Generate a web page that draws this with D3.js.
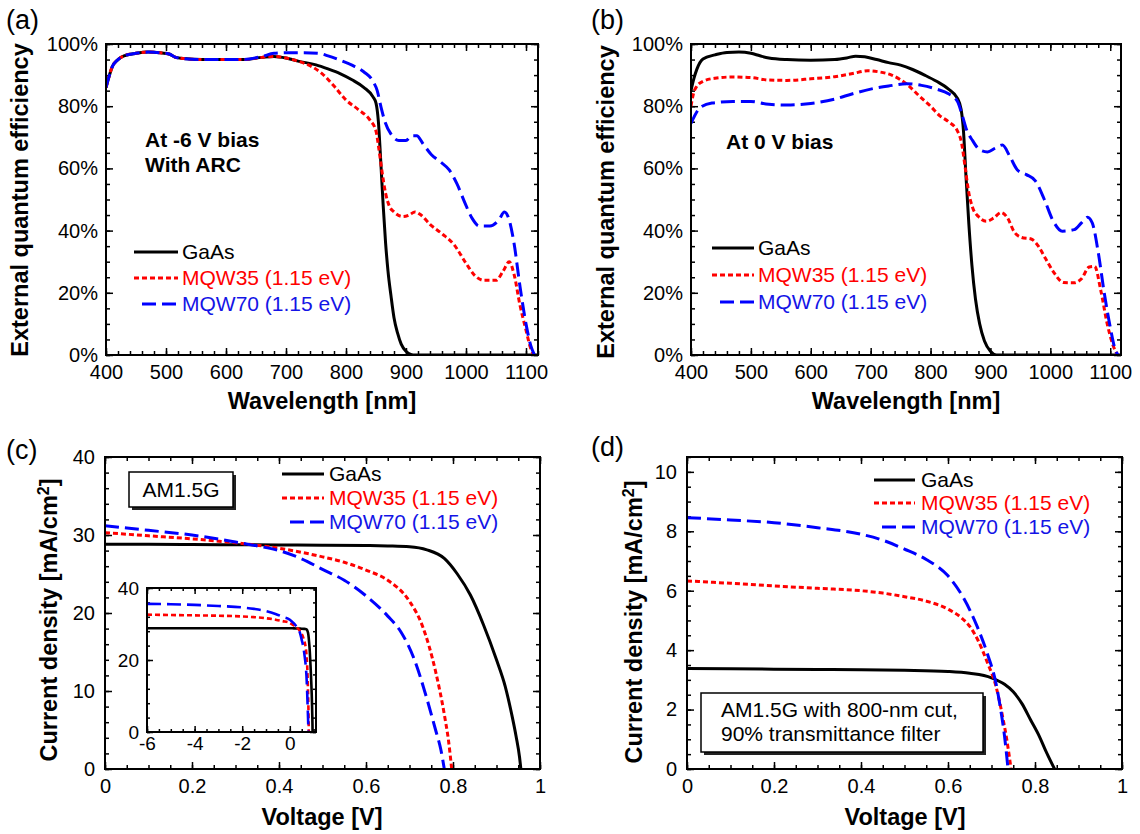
<!DOCTYPE html>
<html>
<head>
<meta charset="utf-8">
<script src="https://cdn.jsdelivr.net/npm/d3@7"></script>
<style>
  body { margin: 0; background: #fff; }
  svg text { font-family: "Liberation Sans", Arial, Helvetica, sans-serif; }
</style>
</head>
<body>
<svg id="fig" width="1140" height="834"></svg>
<script>
// ---------- data ----------
// (a) EQE at -6 V bias, with ARC   [wavelength nm, EQE %]
var eqeA_GaAs = [[400,86],[405,89.5],[410,92.5],[420,95],[430,96.2],[450,97],[470,97.4],[490,97.2],[505,96.8],[515,95.8],[530,95.3],[560,95],[600,95],[630,95],[660,95.7],[680,96],[700,95.5],[720,94.5],[750,93.3],[770,92],[790,90.5],[810,88.5],[830,86],[845,83],[850,81],[854,75],[858,62],[862,48],[866,36],[870,27],[875,19],[880,12],[886,7],[892,3.5],[900,1.2],[908,0.2],[915,0],[1120,0]];
var eqeA_MQW35 = [[400,86],[405,89.5],[410,92.5],[420,95],[430,96.2],[450,97],[470,97.4],[490,97.2],[505,96.8],[515,95.8],[530,95.3],[560,95],[600,95],[630,95],[660,95.7],[680,96],[700,95.5],[720,94.5],[745,92.5],[760,90.5],[780,86.5],[800,82],[820,79],[840,75.5],[850,72],[855,66],[860,59],[866,52],[872,48],[880,46],[895,44.5],[905,45],[915,46],[925,45],[940,42],[960,39],[980,35.5],[1000,29.5],[1015,25.5],[1030,24],[1050,24],[1062,27],[1072,30],[1080,26],[1090,16],[1100,8],[1108,2],[1113,0]];
var eqeA_MQW70 = [[400,86],[405,89.5],[410,92.5],[420,95],[430,96.2],[450,97],[470,97.4],[490,97.2],[505,96.8],[515,95.8],[530,95.3],[560,95],[600,95],[630,95],[660,96],[680,97],[700,97.2],[730,97.2],[755,97],[770,96.2],[790,94.8],[810,93.2],[830,91],[845,88],[852,85],[858,80],[865,75],[875,71],[888,69],[900,69],[910,70.5],[918,70.5],[928,68],[942,64.5],[958,62],[972,59.5],[985,55],[998,49],[1010,44],[1022,41.5],[1040,41.5],[1055,43.5],[1064,46],[1071,44],[1080,36],[1090,22],[1100,10],[1108,3],[1114,0]];

// (b) EQE at 0 V bias
var eqeB_GaAs = [[400,85],[405,89],[410,92],[420,95.2],[440,96.5],[460,97.3],[480,97.4],[500,97],[515,96.2],[530,95.5],[560,95],[600,94.8],[640,95],[660,95.5],[675,96.1],[690,95.9],[710,95],[730,94],[750,93.2],[770,91.8],[790,90],[810,88],[830,85.5],[845,82.5],[851,79],[855,72],[859,58],[864,42],[869,29],[875,18],[882,10],[890,4.5],[900,1.2],[910,0],[1120,0]];
var eqeB_MQW35 = [[400,80],[404,84],[410,86.5],[420,88],[440,89],[470,89.4],[500,89.2],[530,88.4],[560,88.3],[600,88.8],[640,89.5],[670,90.5],[695,91.4],[715,91],[735,90],[750,88.5],[765,86.3],[780,83.5],[800,80],[815,77],[830,75],[845,72],[852,68],[858,60],[864,52],[870,47.5],[880,44.5],[893,43],[905,44],[918,45.8],[928,44.2],[940,39.5],[952,37.8],[968,37.3],[980,35],[992,31],[1006,26.5],[1022,23.3],[1040,23.2],[1052,24.5],[1065,28.3],[1074,28.5],[1084,21],[1095,10],[1104,3.5],[1112,0]];
var eqeB_MQW70 = [[400,74.5],[405,76.5],[415,79.5],[435,81],[470,81.5],[500,81.5],[530,80.6],[560,80.4],[600,80.9],[640,82.3],[670,84],[700,85.5],[730,86.5],[760,87.2],[785,86.7],[810,85.5],[830,84],[845,81.5],[853,77],[860,72.5],[870,69],[882,66],[895,65.3],[908,66.5],[920,67.5],[932,64],[945,59.5],[960,58],[975,56],[990,50],[1005,43],[1020,39.8],[1040,40.3],[1052,42.5],[1062,44.3],[1070,42.5],[1080,33],[1090,20],[1100,9],[1108,2],[1113,0]];

// (c) J-V under AM1.5G   [voltage V, current density mA/cm2]
var jvC_GaAs = [[0,28.8],[0.1,28.8],[0.2,28.78],[0.3,28.75],[0.4,28.72],[0.5,28.7],[0.6,28.65],[0.65,28.6],[0.7,28.5],[0.74,28.1],[0.78,27],[0.81,25],[0.84,22.3],[0.87,18.5],[0.9,14],[0.92,10.6],[0.935,7],[0.945,4.2],[0.953,1.5],[0.956,0]];
var jvC_MQW35 = [[0,30.3],[0.05,30.1],[0.1,29.9],[0.2,29.5],[0.3,29],[0.4,28.3],[0.5,27.2],[0.55,26.5],[0.6,25.5],[0.65,24.2],[0.7,21.5],[0.73,18.3],[0.76,12.5],[0.78,7],[0.79,3.5],[0.797,0]];
var jvC_MQW70 = [[0,31.2],[0.05,30.9],[0.1,30.6],[0.2,30],[0.3,29.1],[0.35,28.6],[0.4,28],[0.45,27],[0.5,25.6],[0.55,24.2],[0.6,22.2],[0.65,19.6],[0.68,17.6],[0.71,14.2],[0.74,9],[0.76,5],[0.772,2.5],[0.78,0]];
// inset of (c): reverse-bias part, continued by the arrays above
var insetC_GaAs = [[-6,28.8],[-4,28.8],[-2,28.8],[-1,28.8]];
var insetC_MQW35 = [[-6,32.6],[-5,32.5],[-4,32.4],[-3,32.3],[-2,32.1],[-1.5,31.9],[-1,31.6],[-0.6,31.2],[-0.3,30.8]];
var insetC_MQW70 = [[-6,35.6],[-5,35.5],[-4,35.3],[-3,35],[-2,34.6],[-1.5,34.2],[-1,33.6],[-0.6,32.8],[-0.3,32]];

// (d) J-V with 800-nm cut filter
var jvD_GaAs = [[0,3.38],[0.1,3.37],[0.2,3.36],[0.3,3.35],[0.4,3.34],[0.5,3.32],[0.6,3.28],[0.65,3.22],[0.7,3.07],[0.73,2.85],[0.75,2.6],[0.77,2.2],[0.79,1.65],[0.81,1.1],[0.825,0.6],[0.845,0]];
var jvD_MQW35 = [[0,6.33],[0.1,6.25],[0.2,6.16],[0.3,6.08],[0.4,6],[0.45,5.92],[0.5,5.8],[0.55,5.65],[0.6,5.38],[0.63,5.1],[0.65,4.8],[0.67,4.3],[0.69,3.6],[0.71,2.8],[0.725,1.8],[0.735,1],[0.745,0]];
var jvD_MQW70 = [[0,8.46],[0.1,8.38],[0.2,8.29],[0.3,8.12],[0.4,7.9],[0.45,7.7],[0.5,7.4],[0.55,7.05],[0.6,6.5],[0.634,5.8],[0.667,4.8],[0.69,3.9],[0.71,2.9],[0.72,2.1],[0.73,1.1],[0.738,0]];

// tick labels
var eqeTicks = [400,500,600,700,800,900,1000,1100];
var pctTicks = [0,20,40,60,80,100];
var pctLabels = ["0%","20%","40%","60%","80%","100%"];
var vTicks = [0,0.2,0.4,0.6,0.8,1];
var vLabels = ["0","0.2","0.4","0.6","0.8","1"];
var jCTicks = [0,10,20,30,40];
var jDTicks = [0,2,4,6,8,10];
var insetVTicks = [-6,-4,-2,0];
var insetVLabels = ["-6","-4","-2","0"];
var insetJTicks = [0,20,40];

var legendLabels = ["GaAs","MQW35 (1.15 eV)","MQW70 (1.15 eV)"];
var STYLE = [
  {color:"#000", text:"#000", dash:null},
  {color:"#ff0000", text:"#ff0000", dash:"5,3"},
  {color:"#0000ff", text:"#1414e6", dash:"14,6"}
];

var svg = d3.select("#fig");
var FONT = '"Liberation Sans", Arial, Helvetica, sans-serif';

//==================================
function panel(o){
//==================================
  var g = svg.append("g");
  var x = d3.scaleLinear().domain(o.xd).range([o.x0, o.x1]);
  var y = d3.scaleLinear().domain(o.yd).range([o.y1, o.y0]);
  var mj = o.mj || 7, mn = o.mn || 4;

  svg.append("clipPath").attr("id", "clip_" + o.name)
    .append("rect").attr("x", o.x0).attr("y", o.y0)
    .attr("width", o.x1 - o.x0).attr("height", o.y1 - o.y0);

  g.append("rect").attr("x", o.x0).attr("y", o.y0)
    .attr("width", o.x1 - o.x0).attr("height", o.y1 - o.y0).attr("fill", "#fff");

  function ax(axis, tr){
    g.append("g").attr("transform", tr).call(axis).call(function(s){
      s.select(".domain").remove();
      s.attr("font-family", FONT).attr("font-size", o.fs);
      s.selectAll("line").attr("stroke-width", 1.5);
    });
  }
  // minor ticks on all four sides
  ax(d3.axisBottom(x).tickValues(o.xminor).tickSize(-mn).tickFormat(""), "translate(0," + o.y1 + ")");
  ax(d3.axisTop(x).tickValues(o.xminor).tickSize(-mn).tickFormat(""), "translate(0," + o.y0 + ")");
  ax(d3.axisLeft(y).tickValues(o.yminor).tickSize(-mn).tickFormat(""), "translate(" + o.x0 + ",0)");
  ax(d3.axisRight(y).tickValues(o.yminor).tickSize(-mn).tickFormat(""), "translate(" + o.x1 + ",0)");
  // major ticks, labels on bottom / left
  ax(d3.axisBottom(x).tickValues(o.xt).tickSize(-mj).tickPadding(o.xpad || 10)
      .tickFormat(function(d,i){ return o.xl ? o.xl[i] : d; }), "translate(0," + o.y1 + ")");
  ax(d3.axisTop(x).tickValues(o.xt).tickSize(-mj).tickFormat(""), "translate(0," + o.y0 + ")");
  ax(d3.axisLeft(y).tickValues(o.yt).tickSize(-mj).tickPadding(o.ypad || 9)
      .tickFormat(function(d,i){ return o.yl ? o.yl[i] : d; }), "translate(" + o.x0 + ",0)");
  ax(d3.axisRight(y).tickValues(o.yt).tickSize(-mj).tickFormat(""), "translate(" + o.x1 + ",0)");

  var line = d3.line().x(function(d){ return x(d[0]); }).y(function(d){ return y(d[1]); })
    .curve(d3.curveMonotoneX);
  var cg = g.append("g").attr("clip-path", "url(#clip_" + o.name + ")");
  o.series.forEach(function(s, i){
    cg.append("path").attr("d", line(s))
      .attr("fill", "none").attr("stroke", STYLE[i].color)
      .attr("stroke-width", o.lw || 3).attr("stroke-dasharray", STYLE[i].dash);
  });

  g.append("rect").attr("x", o.x0).attr("y", o.y0)
    .attr("width", o.x1 - o.x0).attr("height", o.y1 - o.y0)
    .attr("fill", "none").attr("stroke", "#000").attr("stroke-width", 2);
  return g;
}

function legend(g, lx0, lx1, tx, ys){
  legendLabels.forEach(function(lab, i){
    g.append("line").attr("x1", i === 2 ? lx0 + 8 : lx0).attr("x2", lx1)
      .attr("y1", ys[i]).attr("y2", ys[i])
      .attr("stroke", STYLE[i].color).attr("stroke-width", 3)
      .attr("stroke-dasharray", STYLE[i].dash);
    g.append("text").attr("x", tx).attr("y", ys[i]).attr("dy", "0.35em")
      .attr("font-size", 21).attr("fill", STYLE[i].text).text(lab);
  });
}

function label(txt, x, y, size, bold, rot, anchor){
  var t = svg.append("text")
    .attr("transform", "translate(" + x + "," + y + ")" + (rot ? " rotate(-90)" : ""))
    .attr("dy", "0.35em").attr("font-size", size)
    .attr("font-weight", bold ? "bold" : "normal")
    .attr("text-anchor", anchor || "middle").text(txt);
  return t;
}

function panelTag(txt, x, y){
  svg.append("text").attr("x", x).attr("y", y).attr("dy", "0.35em")
    .attr("font-size", 27).attr("font-family", '"Liberation Serif", "Times New Roman", serif')
    .text(txt);
}

function shadowBox(x, y, w, h){
  svg.append("rect").attr("x", x + 3).attr("y", y + 3).attr("width", w).attr("height", h).attr("fill", "#222");
  svg.append("rect").attr("x", x).attr("y", y).attr("width", w).attr("height", h)
    .attr("fill", "#fff").attr("stroke", "#000").attr("stroke-width", 1.5);
}

// ---------- (a) ----------
var gA = panel({name:"a", x0:106, x1:538, y0:44, y1:355, xd:[400,1120], yd:[0,100],
  xt:eqeTicks, xminor:d3.range(400, 1121, 20), yt:pctTicks, yl:pctLabels, yminor:d3.range(0, 101, 5),
  fs:20, ypad:8, series:[eqeA_GaAs, eqeA_MQW35, eqeA_MQW70]});
legend(gA, 134, 178, 182, [252, 278, 304]);
label("At -6 V bias", 145, 140, 21, true, false, "start");
label("With ARC", 145, 165, 21, true, false, "start");
label("External quantum efficiency", 20, 200, 23.5, true, true);
label("Wavelength [nm]", 322, 401, 23.5, true);
panelTag("(a)", 6, 20);

// ---------- (b) ----------
var gB = panel({name:"b", x0:691, x1:1121, y0:44, y1:355, xd:[400,1118], yd:[0,100],
  xt:eqeTicks, xminor:d3.range(400, 1119, 20), yt:pctTicks, yl:pctLabels, yminor:d3.range(0, 101, 5),
  fs:20, ypad:8, series:[eqeB_GaAs, eqeB_MQW35, eqeB_MQW70]});
legend(gB, 712, 754, 758, [248, 275, 302]);
label("At 0 V bias", 726, 142, 21, true, false, "start");
label("External quantum efficiency", 606, 202, 23.5, true, true);
label("Wavelength [nm]", 906, 401, 23.5, true);
panelTag("(b)", 591, 20);

// ---------- (c) ----------
var gC = panel({name:"c", x0:105, x1:540, y0:457, y1:769, xd:[0,1], yd:[0,40],
  xt:vTicks, xl:vLabels, xminor:d3.range(0, 1.001, 0.05), yt:jCTicks, yminor:d3.range(0, 40.1, 2),
  fs:20, ypad:10, series:[jvC_GaAs, jvC_MQW35, jvC_MQW70]});
legend(gC, 282, 324, 329, [474, 498, 522]);
shadowBox(129, 472, 104, 35);
label("AM1.5G", 181, 490, 21, false);
var tC = label("Current density [mA/cm", 49, 620, 23.5, true, true);
tC.append("tspan").attr("font-size", 16).attr("baseline-shift", "super").text("2");
tC.append("tspan").text("]");
label("Voltage [V]", 322, 817, 23.5, true);
panelTag("(c)", 6, 450);

// inset of (c)
panel({name:"ci", x0:147, x1:316, y0:588, y1:732, xd:[-6,1.1], yd:[0,40],
  xt:insetVTicks, xl:insetVLabels, xminor:d3.range(-6, 1.01, 0.5), yt:insetJTicks, yminor:d3.range(0, 40.1, 4),
  fs:19, mj:6, mn:3, xpad:5, ypad:8, lw:2.6,
  series:[insetC_GaAs.concat(jvC_GaAs), insetC_MQW35.concat(jvC_MQW35), insetC_MQW70.concat(jvC_MQW70)]});

// ---------- (d) ----------
var gD = panel({name:"d", x0:687, x1:1122, y0:457, y1:769, xd:[0,1], yd:[0,10.5],
  xt:vTicks, xl:vLabels, xminor:d3.range(0, 1.001, 0.05), yt:jDTicks, yminor:d3.range(0, 10.51, 0.5),
  fs:20, ypad:10, series:[jvD_GaAs, jvD_MQW35, jvD_MQW70]});
legend(gD, 874, 915, 921, [480, 503, 527]);
shadowBox(701, 693, 282, 59);
label("AM1.5G with 800-nm cut,", 721, 710, 21, false, false, "start");
label("90% transmittance filter", 721, 734, 21, false, false, "start");
var tD = label("Current density [mA/cm", 634, 622, 23.5, true, true);
tD.append("tspan").attr("font-size", 16).attr("baseline-shift", "super").text("2");
tD.append("tspan").text("]");
label("Voltage [V]", 905, 817, 23.5, true);
panelTag("(d)", 591, 447);
</script>
</body>
</html>
